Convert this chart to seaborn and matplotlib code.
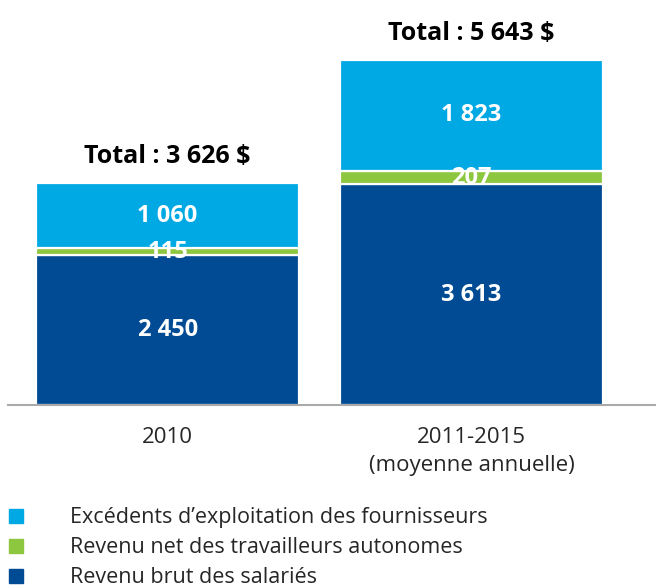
import numpy as np
import pandas as pd
import matplotlib.pyplot as plt
import seaborn as sns
from matplotlib.lines import Line2D

# chart values
periods = ["2010", "2011-2015\n(moyenne annuelle)"]
salaries = [2450, 3613]
autonomes = [115, 207]
fournisseurs = [1060, 1823]
totals = ["3 626", "5 643"]
series_names = ["Excédents d\u2019exploitation des fournisseurs",
                "Revenu net des travailleurs autonomes",
                "Revenu brut des salariés"]
colors = ["#00A9E4", "#8DC63F", "#004B93"]

sns.set_style("white")
plt.rcParams['font.family'] = ['Open Sans', 'DejaVu Sans']

df = pd.DataFrame({"period": periods, "sal": salaries, "aut": autonomes, "fou": fournisseurs})

fig = plt.figure(figsize=(6.56, 5.88), dpi=100)
ax = fig.add_axes([0.0122, 0.311, 0.9878, 0.689])

w = 0.865
bottom = np.zeros(len(df))
for col, c in [("sal", colors[2]), ("aut", colors[1]), ("fou", colors[0])]:
    sns.barplot(data=df, x="period", y=col, color=c, width=w, bottom=bottom,
                edgecolor="white", linewidth=1.6, saturation=1, ax=ax)
    for i, v in enumerate(df[col]):
        ax.text(i, bottom[i] + v / 2, f"{v:,}".replace(",", " "), ha="center", va="center",
                color="white", fontsize=17, fontweight="bold")
    bottom = bottom + df[col].values

for i, t in enumerate(totals):
    ax.text(i, bottom[i] + 230, f"Total : {t} $", ha="center", va="bottom",
            fontsize=18, fontweight="bold", color="black")

ax.set_xlim(-0.525, 1.607)
ax.set_ylim(0, 6617)
ax.set_xlabel("")
ax.set_ylabel("")
ax.set_yticks([])
sns.despine(ax=ax, left=True, top=True, right=True)
ax.spines["bottom"].set_color("#aaaaaa")
ax.spines["bottom"].set_linewidth(1.5)
ax.tick_params(axis="x", length=0, pad=16, labelsize=16)
for lab in ax.get_xticklabels():
    lab.set_linespacing(1.4)

handles = [Line2D([0], [0], marker="s", linestyle="", markersize=9.5,
                  markerfacecolor=c, markeredgecolor=c) for c in colors]
fig.legend(handles, series_names, loc="upper left", bbox_to_anchor=(-0.005, 0.152),
           frameon=False, fontsize=15.5, handletextpad=2.0, labelspacing=0.42,
           borderaxespad=0, handlelength=1.0)

fig.savefig("out.png", dpi=100)
